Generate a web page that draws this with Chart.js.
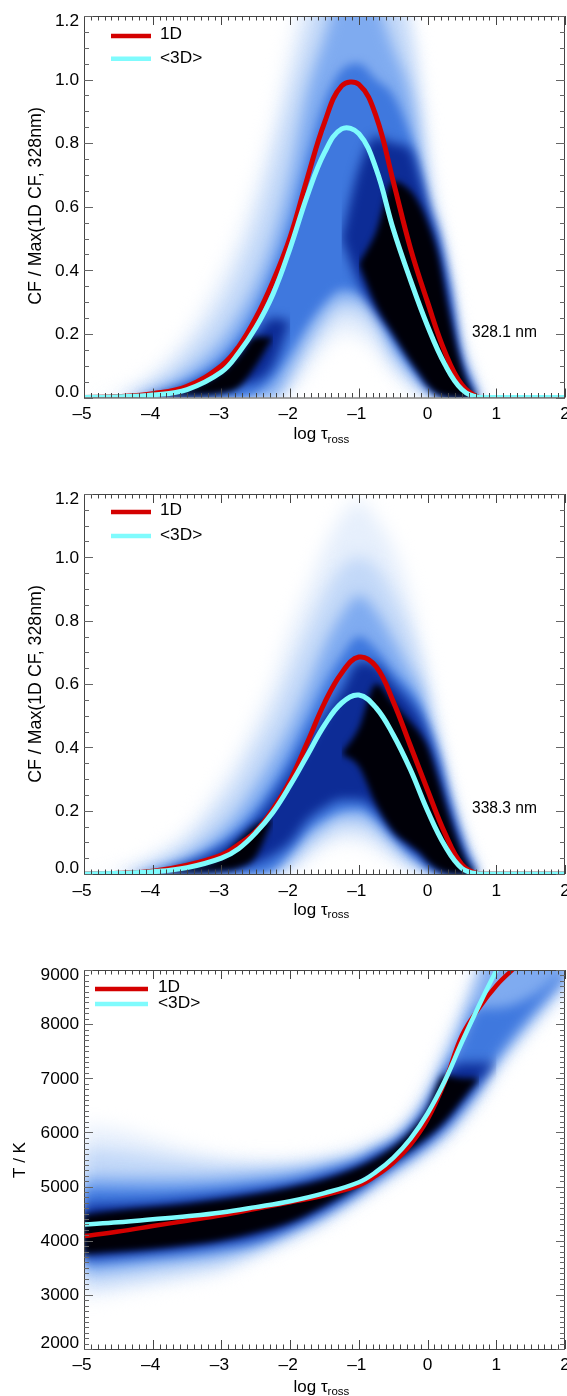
<!DOCTYPE html>
<html>
<head>
<meta charset="utf-8">
<title>Contribution functions and temperature</title>
<script src="https://cdn.jsdelivr.net/npm/chart.js@4"></script>
<style>
  html, body { margin: 0; padding: 0; background: #fff; overflow: hidden; }
  canvas { position: absolute; left: 0; }
</style>
</head>
<body>
<canvas id="cf328Chart" width="567" height="470" style="top:0"></canvas>
<canvas id="cf338Chart" width="567" height="476" style="top:470px"></canvas>
<canvas id="tempChart" width="567" height="450" style="top:946px"></canvas>

<script>
/*** Tick labels ***/
const tauTicks = [-5, -4, -3, -2, -1, 0, 1, 2];
const tauTickLabels = ['\u20135', '\u20134', '\u20133', '\u20132', '\u20131', '0', '1', '2'];
const cfTicks = [0, 0.2, 0.4, 0.6, 0.8, 1.0, 1.2];
const cfTickLabels = ['0.0', '0.2', '0.4', '0.6', '0.8', '1.0', '1.2'];
const tempTicks = [2000, 3000, 4000, 5000, 6000, 7000, 8000, 9000];
const tempTickLabels = ['2000', '3000', '4000', '5000', '6000', '7000', '8000', '9000'];

/*** Mean curves ***/
const cfCurveTau = [-5, -4.5, -4, -3.5, -3, -2.75, -2.5, -2.25, -2, -1.75, -1.5, -1.25, -1, -0.75, -0.5, -0.25, 0, 0.25, 0.5, 0.75, 1, 2];
const cf328Values1D = [0, 0.003, 0.012, 0.035, 0.1, 0.16, 0.25, 0.365, 0.505, 0.69, 0.865, 0.98, 0.985, 0.885, 0.68, 0.47, 0.3, 0.145, 0.04, 0, 0, 0];
const cf328Values3D = [0, 0.002, 0.008, 0.025, 0.08, 0.14, 0.22, 0.325, 0.47, 0.635, 0.77, 0.845, 0.83, 0.72, 0.53, 0.37, 0.225, 0.105, 0.025, 0, 0, 0];
const cf338Values1D = [0, 0.002, 0.009, 0.028, 0.06, 0.093, 0.135, 0.205, 0.295, 0.415, 0.54, 0.635, 0.685, 0.655, 0.545, 0.405, 0.265, 0.13, 0.03, 0, 0, 0];
const cf338Values3D = [0, 0.002, 0.007, 0.02, 0.05, 0.08, 0.13, 0.195, 0.28, 0.375, 0.47, 0.54, 0.565, 0.525, 0.44, 0.33, 0.2, 0.09, 0.018, 0, 0, 0];

const tempTau1D = [-5, -4.5, -4, -3.5, -3, -2.5, -2, -1.5, -1, -0.75, -0.5, -0.25, 0, 0.25, 0.5, 0.75, 1, 1.25, 1.5];
const tempValues1D = [4085, 4170, 4270, 4370, 4470, 4590, 4710, 4840, 5020, 5200, 5440, 5770, 6240, 6930, 7790, 8300, 8710, 9020, 9300];
const tempTau3D = [-5, -4.5, -4, -3.5, -3, -2.5, -2, -1.5, -1, -0.75, -0.5, -0.25, 0, 0.25, 0.5, 0.75, 1, 1.25];
const tempValues3D = [4300, 4340, 4395, 4450, 4520, 4620, 4730, 4880, 5080, 5270, 5530, 5880, 6350, 6950, 7670, 8350, 8990, 9600];

/*** Density contours, upper and lower edge per level, light to dark. null where a level has no area ***/
const cfGrid = [-5, -4.5, -4, -3.5, -3, -2.75, -2.5, -2.25, -2, -1.75, -1.5, -1.25, -1, -0.75, -0.5, -0.25, -0.1, 0, 0.15, 0.3, 0.45, 0.6, 0.75, 1, 2];

const cf328Upper1 = [0, 0.012, 0.08, 0.2, 0.39, 0.51, 0.67, 0.86, 1.1, 1.35, 1.45, 1.5, 1.5, 1.45, 1.4, 1.2, 0.95, 0.74, 0.54, 0.39, 0.19, 0.09, 0.01, 0, 0];
const cf328Lower1 = [0, 0, 0, 0, 0, 0, 0, 0, 0.02, 0.09, 0.16, 0.2, 0.19, 0.15, 0.08, 0.03, 0.012, 0.005, 0, 0, 0, 0, 0, 0, 0];
const cf328Upper2 = [0, 0.005, 0.045, 0.14, 0.29, 0.4, 0.54, 0.73, 0.95, 1.15, 1.35, 1.45, 1.45, 1.4, 1.32, 1.12, 0.9, 0.7, 0.53, 0.37, 0.18, 0.08, 0.006, 0, 0];
const cf328Lower2 = [0, 0, 0, 0, 0, 0, 0, 0, 0.05, 0.14, 0.21, 0.26, 0.25, 0.2, 0.11, 0.05, 0.025, 0.012, 0.003, 0, 0, 0, 0, 0, 0];
const cf328Upper3 = [0, 0, 0.022, 0.08, 0.18, 0.26, 0.36, 0.5, 0.7, 0.96, 1.13, 1.3, 1.35, 1.25, 1.1, 0.95, 0.75, 0.62, 0.52, 0.36, 0.165, 0.065, 0.002, 0, 0];
const cf328Lower3 = [0, 0, 0, 0, 0, 0, 0, 0.002, 0.085, 0.18, 0.26, 0.305, 0.3, 0.25, 0.15, 0.08, 0.045, 0.025, 0.006, 0, 0, 0, 0, 0, 0];
const cf328Upper4 = [0, 0, 0.01, 0.05, 0.125, 0.19, 0.28, 0.4, 0.55, 0.75, 0.93, 1.03, 1.05, 1.0, 0.95, 0.82, 0.7, 0.6, 0.5, 0.35, 0.15, 0.055, 0, 0, 0];
const cf328Lower4 = [0, 0, 0, 0, 0, 0, 0.015, 0.06, 0.14, 0.23, 0.3, 0.34, 0.33, 0.28, 0.18, 0.1, 0.06, 0.035, 0.01, 0, 0, 0, 0, 0, 0];
const cf328Upper5 = [0, 0, 0.005, 0.03, 0.09, 0.14, 0.2, 0.25, 0.24, null, null, 0.5, 0.72, 0.82, 0.8, 0.78, 0.68, 0.6, 0.49, 0.33, 0.14, 0.045, 0, 0, 0];
const cf328Lower5 = [0, 0, 0, 0.005, 0.02, 0.04, 0.05, 0.1, 0.24, null, null, 0.5, 0.36, 0.27, 0.2, 0.12, 0.07, 0.04, 0.015, 0.003, 0, 0, 0, 0, 0];
const cf328Upper6 = [0, 0, 0.003, 0.025, 0.08, 0.13, 0.19, 0.19, null, null, null, null, 0.42, 0.52, 0.68, 0.65, 0.6, 0.55, 0.45, 0.28, 0.13, 0.035, 0, 0, 0];
const cf328Lower6 = [0, 0, 0.001, 0.008, 0.015, 0.033, 0.1, 0.19, null, null, null, null, 0.42, 0.29, 0.2, 0.115, 0.07, 0.04, 0.012, 0.002, 0, 0, 0, 0, 0];

const cf338Upper1 = [0, 0.01, 0.06, 0.14, 0.29, 0.38, 0.49, 0.61, 0.77, 0.9, 1.03, 1.13, 1.18, 1.12, 1.03, 0.87, 0.72, 0.62, 0.41, 0.27, 0.15, 0.065, 0, 0, 0];
const cf338Lower1 = [0, 0, 0, 0, 0, 0, 0, 0, 0.01, 0.05, 0.085, 0.105, 0.1, 0.08, 0.045, 0.015, 0.005, 0, 0, 0, 0, 0, 0, 0, 0];
const cf338Upper2 = [0, 0.004, 0.035, 0.1, 0.22, 0.3, 0.4, 0.5, 0.63, 0.76, 0.88, 0.97, 1.0, 0.97, 0.88, 0.76, 0.66, 0.57, 0.41, 0.27, 0.15, 0.06, 0, 0, 0];
const cf338Lower2 = [0, 0, 0, 0, 0, 0, 0, 0, 0.03, 0.075, 0.115, 0.14, 0.14, 0.115, 0.07, 0.03, 0.015, 0.005, 0, 0, 0, 0, 0, 0, 0];
const cf338Upper3 = [0, 0, 0.016, 0.06, 0.14, 0.2, 0.28, 0.37, 0.47, 0.59, 0.72, 0.82, 0.88, 0.83, 0.74, 0.64, 0.58, 0.5, 0.39, 0.25, 0.14, 0.05, 0, 0, 0];
const cf338Lower3 = [0, 0, 0, 0, 0, 0, 0, 0.005, 0.05, 0.11, 0.15, 0.18, 0.18, 0.15, 0.1, 0.05, 0.03, 0.015, 0.003, 0, 0, 0, 0, 0, 0];
const cf338Upper4 = [0, 0, 0.01, 0.04, 0.1, 0.145, 0.205, 0.285, 0.38, 0.49, 0.6, 0.69, 0.75, 0.71, 0.64, 0.58, 0.53, 0.47, 0.37, 0.24, 0.13, 0.045, 0, 0, 0];
const cf338Lower4 = [0, 0, 0, 0, 0, 0, 0, 0.015, 0.07, 0.135, 0.175, 0.2, 0.205, 0.175, 0.12, 0.065, 0.04, 0.022, 0.006, 0, 0, 0, 0, 0, 0];
const cf338Upper5 = [0, 0, 0.004, 0.03, 0.08, 0.12, 0.17, 0.24, 0.32, 0.41, 0.5, 0.58, 0.67, 0.66, 0.6, 0.54, 0.49, 0.44, 0.34, 0.22, 0.115, 0.035, 0, 0, 0];
const cf338Lower5 = [0, 0, 0.001, 0.006, 0.012, 0.02, 0.035, 0.06, 0.1, 0.17, 0.21, 0.235, 0.235, 0.2, 0.13, 0.08, 0.055, 0.032, 0.01, 0.002, 0, 0, 0, 0, 0];
const cf338Upper6 = [0, 0, 0.002, 0.02, 0.05, 0.105, 0.155, 0.175, null, null, null, 0.38, 0.46, 0.6, 0.54, 0.48, 0.44, 0.4, 0.3, 0.19, 0.095, 0.025, 0, 0, 0];
const cf338Lower6 = [0, 0, 0.001, 0.006, 0.012, 0.02, 0.055, 0.175, null, null, null, 0.38, 0.34, 0.22, 0.135, 0.09, 0.065, 0.04, 0.015, 0.003, 0, 0, 0, 0, 0];

const tempGrid = [-5, -4.5, -4, -3.5, -3, -2.5, -2, -1.5, -1, -0.75, -0.5, -0.25, 0, 0.25, 0.5, 0.75, 1, 1.5, 2];
const tempUpper1 = [6120, 6050, 5880, 5700, 5560, 5500, 5500, 5580, 5720, 5850, 5990, 6300, 6880, 7600, 8350, 9200, 10000, 10000, 10000];
const tempLower1 = [2950, 3050, 3170, 3280, 3420, 3700, 4000, 4330, 4760, 4980, 5190, 5400, 5620, 5860, 6200, 6600, 7100, 7900, 8600];
const tempUpper2 = [5700, 5650, 5560, 5470, 5410, 5380, 5390, 5470, 5620, 5770, 5920, 6220, 6700, 7400, 8150, 9000, 10000, 10000, 10000];
const tempLower2 = [3150, 3230, 3320, 3420, 3540, 3790, 4080, 4400, 4810, 5030, 5240, 5450, 5680, 5930, 6290, 6700, 7200, 7980, 8700];
const tempUpper3 = [5200, 5180, 5170, 5170, 5190, 5230, 5290, 5400, 5550, 5700, 5850, 6140, 6580, 7250, 7980, 8800, 9700, 10000, 10000];
const tempLower3 = [3400, 3460, 3540, 3620, 3710, 3880, 4150, 4470, 4870, 5090, 5310, 5520, 5750, 6020, 6380, 6800, 7300, 8080, 8820];
const tempUpper4 = [4950, 4940, 4935, 4950, 4990, 5050, 5130, 5280, 5480, 5640, 5800, 6060, 6480, 7080, 7700, 8300, 8300, 8500, 9000];
const tempLower4 = [3580, 3630, 3700, 3760, 3850, 3970, 4220, 4540, 4930, 5160, 5380, 5590, 5820, 6100, 6470, 6880, 7400, 8200, 8900];
const tempUpper5 = [4650, 4670, 4700, 4760, 4830, 4920, 5020, 5180, 5400, 5570, 5740, 6000, 6400, 7050, 7280, 7280, 7300, null, null];
const tempLower5 = [3680, 3730, 3790, 3860, 3950, 4070, 4290, 4600, 4990, 5220, 5440, 5650, 5880, 6170, 6550, 6950, 7300, null, null];
const tempUpper6 = [4480, 4560, 4620, 4680, 4760, 4860, 4980, 5130, 5360, 5520, 5720, 6000, 6400, 7050, 7000, 7000, null, null, null];
const tempLower6 = [3750, 3800, 3850, 3920, 4010, 4150, 4340, 4650, 5030, 5260, 5480, 5690, 5920, 6210, 6600, 7000, null, null, null];

/*** Colors ***/
const levelColors = ['#e6effc', '#c2d8f8', '#7fabf0', '#3f78de', '#0d2c96', '#000008'];
const cfBlur = [9, 8, 7, 5, 5.5, 3];
const tempBlur = [9, 8, 7, 6, 6, 3];
const red = '#d40000';
const cyan = '#7ffbfd';
const font = '"Liberation Sans", Arial, sans-serif';

function toPoints(xs, ys) {
    return xs.map(function (x, i) { return {x: x, y: ys[i]}; });
}

function drawPanel(canvasId, panel) {
    const datasets = [];

    // each level is a pair of lines, the upper one filled down to the lower one
    panel.levels.forEach(function (level, i) {
        const common = {
            showLine: true, pointRadius: 0, borderWidth: 0, cubicInterpolationMode: 'monotone',
            order: 100 - i, blurPx: panel.blur[i]
        };
        datasets.push(Object.assign({}, common, {
            data: toPoints(panel.grid, level[0]), fill: '+1', backgroundColor: levelColors[i]
        }));
        datasets.push(Object.assign({}, common, {
            data: toPoints(panel.grid, level[1]), fill: false
        }));
    });

    datasets.push({
        label: '1D', data: toPoints(panel.tau1D, panel.values1D), showLine: true, pointRadius: 0,
        borderColor: red, borderWidth: panel.lineWidth, tension: 0.4, order: 1, clip: panel.curveClip
    });
    datasets.push({
        label: '<3D>', data: toPoints(panel.tau3D, panel.values3D), showLine: true, pointRadius: 0,
        borderColor: cyan, borderWidth: panel.lineWidth, tension: 0.4, order: 0, clip: panel.curveClip
    });

    const canvas = document.getElementById(canvasId);

    return new Chart(canvas, {
        type: 'scatter',
        data: {datasets: datasets},
        options: {
            responsive: false,
            animation: false,
            events: [],
            layout: {
                padding: {
                    left: 84, right: 2, top: panel.top, bottom: canvas.height - panel.bottom
                }
            },
            scales: {
                x: {type: 'linear', min: -5, max: 2, display: false},
                y: {type: 'linear', min: panel.yMin, max: panel.yMax, display: false}
            },
            plugins: {
                legend: {display: false},
                tooltip: {enabled: false}
            }
        },
        plugins: [{
            id: 'softBands',
            beforeDatasetDraw: function (chart, args) {
                const px = chart.data.datasets[args.index].blurPx;
                chart.ctx.filter = px ? 'blur(' + px + 'px)' : 'none';
            },
            afterDatasetsDraw: function (chart) {
                chart.ctx.filter = 'none';
                drawFrame(chart, panel);
                drawTexts(chart, panel);
            }
        }]
    });
}

function drawFrame(chart, panel) {
    const ctx = chart.ctx, area = chart.chartArea, xs = chart.scales.x, ys = chart.scales.y;

    ctx.save();
    ctx.strokeStyle = '#444';
    ctx.lineWidth = 1;
    ctx.strokeRect(area.left + 0.5, area.top + 0.5, area.right - area.left - 1, area.bottom - area.top);

    // inward ticks on all four sides
    ctx.beginPath();
    for (let i = 0; i <= 70; i++) {
        const px = Math.round(xs.getPixelForValue(-5 + i / 10)) + 0.5;
        const len = i % 10 === 0 ? 9 : 4.5;
        ctx.moveTo(px, area.top); ctx.lineTo(px, area.top + len);
        ctx.moveTo(px, area.bottom); ctx.lineTo(px, area.bottom - len);
    }
    ctx.stroke();

    ctx.strokeStyle = '#666';
    ctx.beginPath();
    for (let i = 0; i <= panel.yMinorCount; i++) {
        const py = Math.round(ys.getPixelForValue(panel.yMin + i * panel.yMinorStep)) + 0.5;
        const len = i % panel.yMinorPerMajor === 0 ? 9 : 5;
        ctx.moveTo(area.left, py); ctx.lineTo(area.left + len, py);
        ctx.moveTo(area.right, py); ctx.lineTo(area.right - len, py);
    }
    ctx.stroke();
    ctx.restore();
}

function drawTexts(chart, panel) {
    const ctx = chart.ctx, area = chart.chartArea, xs = chart.scales.x, ys = chart.scales.y;

    ctx.save();
    ctx.fillStyle = '#000';
    ctx.textBaseline = 'middle';
    ctx.font = '17.3px ' + font;

    // tick labels, the outer y labels stay inside the frame height
    ctx.textAlign = 'center';
    tauTicks.forEach(function (t, i) {
        const tx = xs.getPixelForValue(t) - (i < 5 ? 2 : 0);
        ctx.fillText(tauTickLabels[i], tx, area.bottom + panel.xLabelGap);
    });
    ctx.textAlign = 'right';
    panel.yTicks.forEach(function (t, i) {
        const py = Math.min(Math.max(ys.getPixelForValue(t), area.top + 5), area.bottom - 6);
        ctx.fillText(panel.yTickLabels[i], 79, py + 0.5);
    });

    // x title with subscript
    ctx.textAlign = 'left';
    ctx.font = '17px ' + font;
    const titleY = area.bottom + panel.xTitleGap;
    ctx.fillText('log \u03c4', 293.5, titleY);
    const logWidth = ctx.measureText('log \u03c4').width;
    ctx.font = '11.5px ' + font;
    ctx.fillText('ross', 293.5 + logWidth, titleY + 5);

    // y title
    ctx.save();
    ctx.translate(panel.yTitleX, panel.yTitleY);
    ctx.rotate(-Math.PI / 2);
    ctx.textAlign = 'center';
    ctx.font = panel.yTitleSize + 'px ' + font;
    ctx.fillText(panel.yTitle, 0, 0);
    ctx.restore();

    // wavelength note
    if (panel.note) {
        ctx.textAlign = 'left';
        ctx.font = '15.6px ' + font;
        ctx.fillText(panel.note, 472, panel.noteY);
    }

    // legend
    ctx.font = '17.3px ' + font;
    ctx.lineWidth = 4.5;
    const legendItems = [[red, '1D', panel.legendLineY[0], panel.legendTextY[0]], [cyan, '<3D>', panel.legendLineY[1], panel.legendTextY[1]]];
    legendItems.forEach(function (item) {
        ctx.strokeStyle = item[0];
        ctx.beginPath();
        ctx.moveTo(panel.legendX[0], item[2]);
        ctx.lineTo(panel.legendX[1], item[2]);
        ctx.stroke();
        ctx.fillText(item[1], panel.legendX[2], item[3]);
    });
    ctx.restore();
}

/*** Panels ***/
drawPanel('cf328Chart', {
    grid: cfGrid, blur: cfBlur,
    levels: [[cf328Upper1, cf328Lower1], [cf328Upper2, cf328Lower2], [cf328Upper3, cf328Lower3],
        [cf328Upper4, cf328Lower4], [cf328Upper5, cf328Lower5], [cf328Upper6, cf328Lower6]],
    tau1D: cfCurveTau, values1D: cf328Values1D, tau3D: cfCurveTau, values3D: cf328Values3D,
    top: 16, bottom: 397.5, yMin: 0, yMax: 1.2, yTicks: cfTicks, yTickLabels: cfTickLabels,
    yMinorCount: 24, yMinorStep: 0.05, yMinorPerMajor: 4, lineWidth: 5,
    xLabelGap: 17, xTitleGap: 37,
    yTitle: 'CF / Max(1D CF, 328nm)', yTitleX: 36, yTitleY: 206, yTitleSize: 17.8,
    note: '328.1 nm', noteY: 333,
    legendX: [111, 151, 160], legendLineY: [36, 58.7], legendTextY: [34.5, 58.5]
});

drawPanel('cf338Chart', {
    grid: cfGrid, blur: cfBlur,
    levels: [[cf338Upper1, cf338Lower1], [cf338Upper2, cf338Lower2], [cf338Upper3, cf338Lower3],
        [cf338Upper4, cf338Lower4], [cf338Upper5, cf338Lower5], [cf338Upper6, cf338Lower6]],
    tau1D: cfCurveTau, values1D: cf338Values1D, tau3D: cfCurveTau, values3D: cf338Values3D,
    top: 24, bottom: 404, yMin: 0, yMax: 1.2, yTicks: cfTicks, yTickLabels: cfTickLabels,
    yMinorCount: 24, yMinorStep: 0.05, yMinorPerMajor: 4, lineWidth: 5,
    xLabelGap: 17, xTitleGap: 36,
    yTitle: 'CF / Max(1D CF, 328nm)', yTitleX: 36, yTitleY: 214, yTitleSize: 17.8,
    note: '338.3 nm', noteY: 339,
    legendX: [111, 151, 160], legendLineY: [42, 66], legendTextY: [40.5, 65.5]
});

drawPanel('tempChart', {
    grid: tempGrid, blur: tempBlur,
    levels: [[tempUpper1, tempLower1], [tempUpper2, tempLower2], [tempUpper3, tempLower3],
        [tempUpper4, tempLower4], [tempUpper5, tempLower5], [tempUpper6, tempLower6]],
    tau1D: tempTau1D, values1D: tempValues1D, tau3D: tempTau3D, values3D: tempValues3D,
    curveClip: 0,
    top: 24, bottom: 403, yMin: 2000, yMax: 9000, yTicks: tempTicks, yTickLabels: tempTickLabels,
    yMinorCount: 70, yMinorStep: 100, yMinorPerMajor: 10, lineWidth: 4.5,
    xLabelGap: 16, xTitleGap: 38,
    yTitle: 'T / K', yTitleX: 20, yTitleY: 214, yTitleSize: 17,
    legendX: [95, 148, 158], legendLineY: [43, 58], legendTextY: [41, 57]
});
</script>
</body>
</html>
